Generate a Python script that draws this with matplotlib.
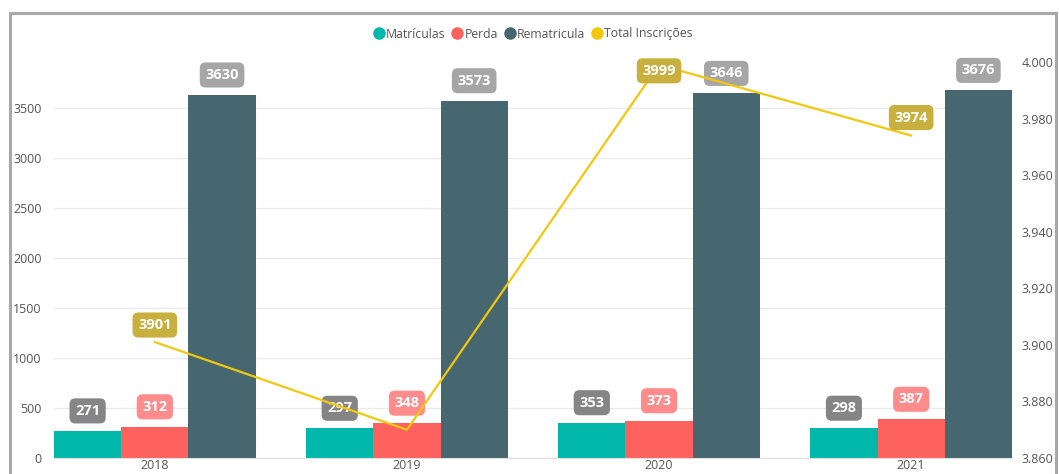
import numpy as np
import matplotlib.pyplot as plt
from matplotlib.lines import Line2D
from matplotlib.patches import Rectangle
from matplotlib.ticker import FuncFormatter

plt.rcParams['font.family'] = ['Open Sans', 'DejaVu Sans']

# dados
anos = ['2018', '2019', '2020', '2021']
matriculas = [271, 297, 353, 298]
perda = [312, 348, 373, 387]
rematricula = [3630, 3573, 3646, 3676]
total_inscricoes = [3901, 3870, 3999, 3974]

cor_mat = '#01B8AA'
cor_perda = '#FD625E'
cor_remat = '#466670'
cor_total = '#F2C80F'

fig = plt.figure(figsize=(10.59, 4.74), dpi=100)
ax = fig.add_axes([54 / 1059, 16 / 474, (1012 - 54) / 1059, (458 - 50) / 474])
ax2 = ax.twinx()

# moldura cinza do visual
fig.patches.append(Rectangle((10 / 1059, -0.05), 1046 / 1059, 1.05 - 13 / 474,
                             transform=fig.transFigure, fill=False,
                             edgecolor='#A8A8A8', linewidth=2.2))

x = np.arange(len(anos))
w = 0.8 / 3
ax.bar(x - w, matriculas, w, color=cor_mat, zorder=2)
ax.bar(x, perda, w, color=cor_perda, zorder=2)
ax.bar(x + w, rematricula, w, color=cor_remat, zorder=2)

ax.set_xlim(-0.4, 3.4)
ax.set_ylim(0, 4080)
ax.set_yticks(range(0, 4000, 500))
ax.grid(axis='y', color='#EBEBEB', linewidth=1, zorder=0)
ax.set_xticks(x)
ax.set_xticklabels(anos)
ax.tick_params(axis='both', length=0, labelsize=9, colors='#555555')
ax.tick_params(axis='y', pad=9)
ax.tick_params(axis='x', pad=0.5)
for s in ['top', 'left', 'right']:
    ax.spines[s].set_visible(False)
ax.spines['bottom'].set_color('#E0E0E0')

ax2.plot(x, total_inscricoes, color=cor_total, linewidth=1.6, zorder=3)
ax2.set_ylim(3860, 3860 + 408 / 396 * 140)
ax2.set_yticks(range(3860, 4001, 20))
ax2.yaxis.set_major_formatter(FuncFormatter(lambda v, p: f'{v / 1000:.3f}'))
ax2.tick_params(axis='y', length=0, labelsize=9, colors='#555555', pad=7)
for s in ax2.spines.values():
    s.set_visible(False)


def rotulo(eixo, xv, yv, txt, cor, dy):
    eixo.annotate(txt, (xv, yv), xytext=(0, dy), textcoords='offset pixels',
                  ha='center', va='center', fontsize=10.5, fontweight='bold',
                  color='white', zorder=5,
                  bbox=dict(boxstyle='round,pad=0.38,rounding_size=0.4',
                            fc=cor, ec='none'))


for i in range(len(anos)):
    rotulo(ax, x[i] - w, matriculas[i], str(matriculas[i]), '#858585', 20)
    rotulo(ax, x[i], perda[i], str(perda[i]), '#FF8C8C', 20)
    rotulo(ax, x[i] + w, rematricula[i], str(rematricula[i]), '#A6A6A6', 20)

desloc_total = [17, None, -6, 18]
for i in range(len(anos)):
    if desloc_total[i] is not None:
        rotulo(ax2, x[i], total_inscricoes[i], str(total_inscricoes[i]),
               '#C9B03E', desloc_total[i])

handles = [Line2D([], [], marker='o', linestyle='none', markersize=8,
                  color=c) for c in [cor_mat, cor_perda, cor_remat, cor_total]]
fig.legend(handles, ['Matrículas', 'Perda', 'Rematricula', 'Total Inscrições'],
           loc='center', bbox_to_anchor=(532 / 1059, 1 - 34 / 474), ncol=4,
           frameon=False, fontsize=8.8, handletextpad=0.0, columnspacing=0.35,
           handlelength=1.2, labelcolor='#555555')

fig.savefig('out.png', dpi=100)
